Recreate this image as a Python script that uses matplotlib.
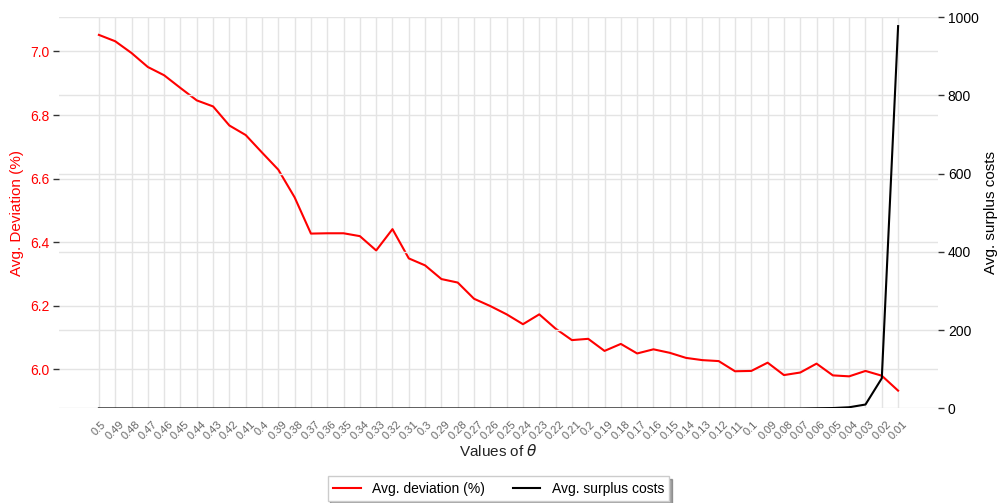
import numpy as np
import matplotlib
matplotlib.use("Agg")
import matplotlib.pyplot as plt

plt.rcParams["font.family"] = ["Liberation Sans", "DejaVu Sans"]

theta_labels = ["0.5", "0.49", "0.48", "0.47", "0.46", "0.45", "0.44", "0.43", "0.42", "0.41",
                "0.4", "0.39", "0.38", "0.37", "0.36", "0.35", "0.34", "0.33", "0.32", "0.31",
                "0.3", "0.29", "0.28", "0.27", "0.26", "0.25", "0.24", "0.23", "0.22", "0.21",
                "0.2", "0.19", "0.18", "0.17", "0.16", "0.15", "0.14", "0.13", "0.12", "0.11",
                "0.1", "0.09", "0.08", "0.07", "0.06", "0.05", "0.04", "0.03", "0.02", "0.01"]

avg_deviation = [7.052, 7.032, 6.995, 6.951, 6.925, 6.885, 6.846, 6.827, 6.767, 6.737,
                 6.682, 6.628, 6.541, 6.427, 6.428, 6.428, 6.419, 6.374, 6.441, 6.349,
                 6.327, 6.284, 6.273, 6.222, 6.199, 6.173, 6.142, 6.173, 6.128, 6.092,
                 6.096, 6.058, 6.080, 6.050, 6.063, 6.052, 6.036, 6.029, 6.026, 5.994,
                 5.995, 6.021, 5.982, 5.990, 6.018, 5.981, 5.978, 5.995, 5.980, 5.933]

avg_surplus = [0, 0, 0, 0, 0, 0, 0, 0, 0, 0,
               0, 0, 0, 0, 0, 0, 0, 0, 0, 0,
               0, 0, 0, 0, 0, 0, 0, 0, 0, 0,
               0, 0, 0, 0, 0, 0, 0, 0, 0, 0,
               0, 0, 0, 0, 0.5, 1, 3, 10, 77, 977]

grid_color = "#e4e4e4"

fig = plt.figure(figsize=(9.99, 5.03), dpi=100)
ax1 = fig.add_axes([0.059, 0.188, 0.880, 0.778])
ax2 = ax1.twinx()

x = np.arange(len(theta_labels))
l1, = ax1.plot(x, avg_deviation, color="red", lw=1.5, label="Avg. deviation (%)")
l2, = ax2.plot(x, avg_surplus, color="black", lw=1.5, label="Avg. surplus costs")

ax1.set_xticks(x)
ax1.set_xticklabels(theta_labels, rotation=45, fontsize=8, color="#666666")
ax1.tick_params(axis="x", length=0, pad=8)
ax1.set_yticks([6.0, 6.2, 6.4, 6.6, 6.8, 7.0])
ax1.tick_params(axis="y", colors="#333333", labelcolor="red", labelsize=10, length=4, width=1, pad=3)
ax2.set_ylim(0, 1000)
ax2.set_yticks([0, 200, 400, 600, 800, 1000])
ax2.tick_params(axis="y", colors="#333333", labelcolor="black", labelsize=10, length=4, width=1, pad=3)

ax1.set_ylabel("Avg. Deviation (%)", color="red", fontsize=11)
ax2.set_ylabel("Avg. surplus costs", color="black", fontsize=11)
ax1.set_xlabel(r"Values of $\theta$", fontsize=11, color="#222222", labelpad=1)

for ax in (ax1, ax2):
    for s in ax.spines.values():
        s.set_visible(False)
    ax.grid(True, axis="y", color=grid_color, lw=1)
    ax.set_axisbelow(True)
ax1.grid(True, axis="x", color=grid_color, lw=1)

ax1.legend(handles=[l1, l2], loc="upper center", bbox_to_anchor=(0.5, -0.155), ncol=2,
           fontsize=10, shadow=True, fancybox=False, frameon=True, edgecolor="#cccccc")

fig.savefig("out.png", dpi=100)
